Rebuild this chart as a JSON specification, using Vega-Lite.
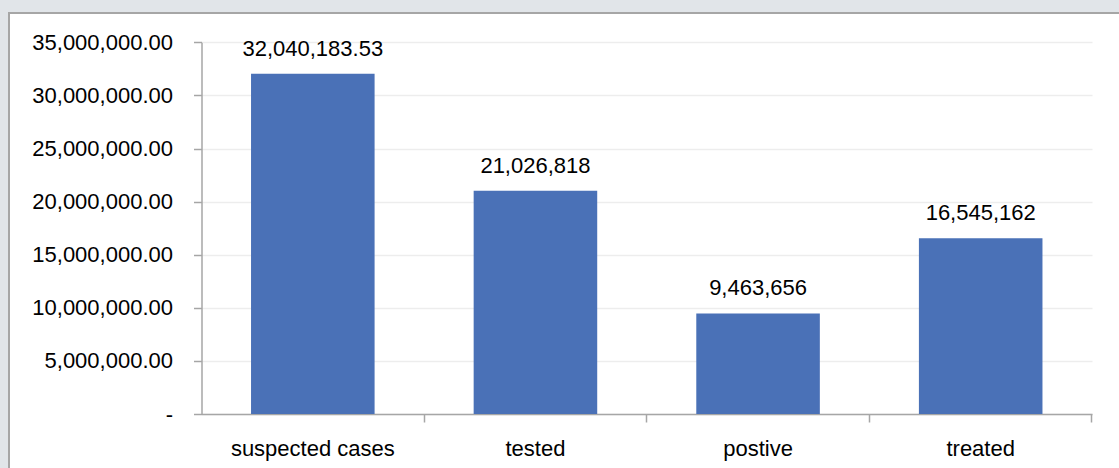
{
  "$schema": "https://vega.github.io/schema/vega-lite/v6.json",
  "autosize": {"type": "none"},
  "padding": {"left": 9, "top": 13, "right": 0, "bottom": 0},
  "width": 1111,
  "height": 456,
  "background": "#E1E5E9",
  "config": {
    "view": {"fill": "#FFFFFF", "stroke": "#A6A6A6", "strokeWidth": 2},
    "font": "Liberation Sans",
    "axis": {
      "labelFont": "Liberation Sans",
      "labelFontSize": 22,
      "labelColor": "#000000",
      "labelLimit": 400,
      "domainColor": "#A6A6A6",
      "domainWidth": 1.5,
      "tickColor": "#A6A6A6",
      "tickWidth": 1.5,
      "tickSize": 8,
      "title": null
    }
  },
  "data": {
    "values": [
      {"category": "suspected cases", "value": 32040183.53, "label": "32,040,183.53"},
      {"category": "tested", "value": 21026818, "label": "21,026,818"},
      {"category": "postive", "value": 9463656, "label": "9,463,656"},
      {"category": "treated", "value": 16545162, "label": "16,545,162"}
    ]
  },
  "encoding": {
    "x": {
      "field": "category",
      "type": "nominal",
      "sort": null,
      "scale": {"range": [192.5, 1083], "paddingInner": 0.445, "paddingOuter": 0.2225},
      "axis": {
        "orient": "bottom",
        "offset": -55,
        "labelAngle": 0,
        "labelPadding": 16,
        "bandPosition": 1.4,
        "grid": false
      }
    },
    "y": {
      "field": "value",
      "type": "quantitative",
      "scale": {"domain": [0, 35000000], "range": [401, 29.3], "nice": false, "zero": true},
      "axis": {
        "orient": "left",
        "offset": -192.5,
        "values": [0, 5000000, 10000000, 15000000, 20000000, 25000000, 30000000, 35000000],
        "labelExpr": "datum.value == 0 ? '-\u00a0\u00a0' : format(datum.value, ',.2f')",
        "labelPadding": 21,
        "grid": true,
        "gridColor": "#EDEDED",
        "gridWidth": 1.5
      }
    }
  },
  "layer": [
    {"mark": {"type": "bar", "color": "#4A71B7"}},
    {
      "mark": {"type": "text", "baseline": "alphabetic", "dy": -18, "fontSize": 22, "color": "#000000", "font": "Liberation Sans"},
      "encoding": {"text": {"field": "label"}}
    }
  ]
}
